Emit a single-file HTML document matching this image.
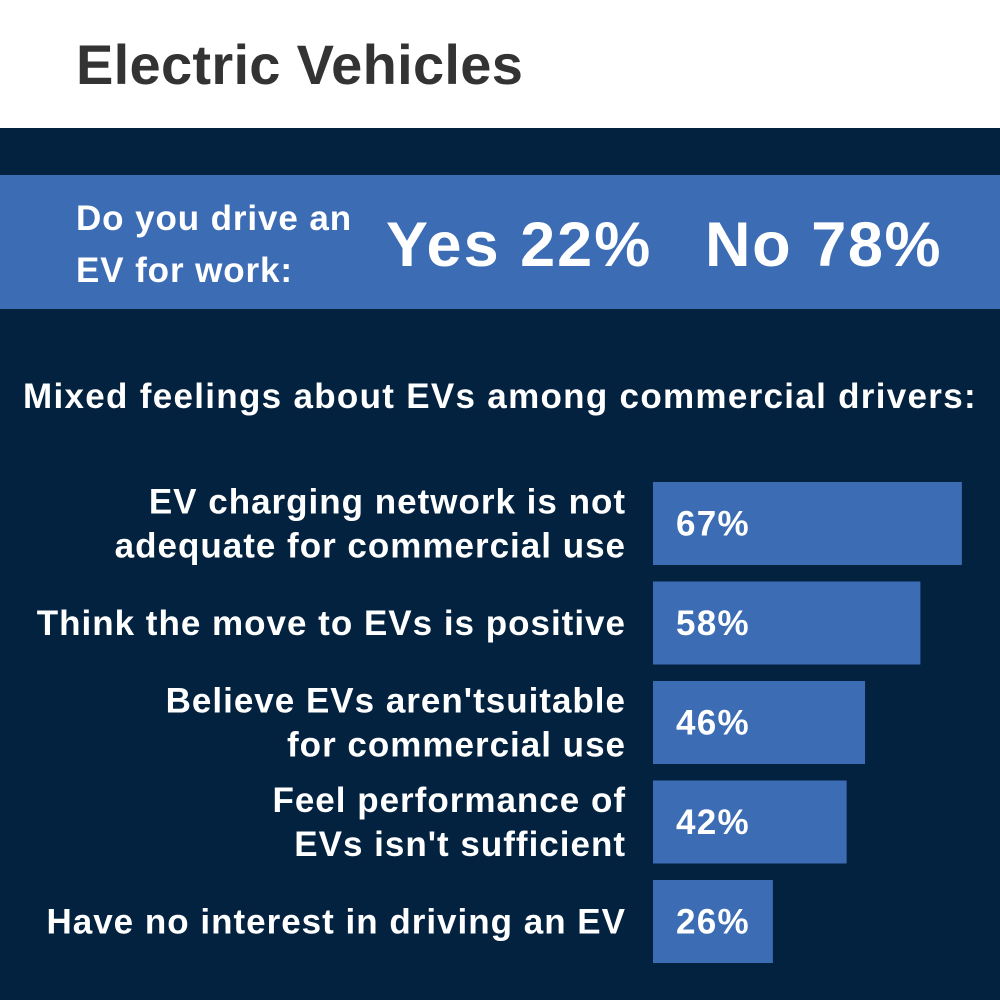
<!DOCTYPE html>
<html><head><meta charset="utf-8"><style>
body{margin:0;width:1000px;height:1000px;overflow:hidden;font-family:"Liberation Sans",sans-serif;font-weight:bold}
#hdr{position:absolute;left:0;top:0;width:1000px;height:128px;background:#fff}
#title{position:absolute;left:76px;top:32px;font-size:56px;color:#333;letter-spacing:0.3px}
#bg{position:absolute;left:0;top:128px;width:1000px;height:872px;background:#03223f}
#band{position:absolute;left:0;top:175px;width:1000px;height:134px;background:#3c6cb4}
.w{position:absolute;color:#fff;white-space:nowrap}
</style></head><body>
<div id="hdr"><div id="title">Electric Vehicles</div></div>
<div id="bg"></div>
<div id="band">
<div class="w" style="left:76px;top:18px;font-size:35px;line-height:52px;letter-spacing:0.9px">Do you drive an<br>EV for work:</div>
<div class="w" style="left:386px;top:34px;font-size:63px;letter-spacing:2px">Yes 22%</div>
<div class="w" style="left:705px;top:34px;font-size:63px;letter-spacing:1.6px">No 78%</div>
</div>
<div class="w" style="left:0;width:1000px;text-align:center;top:377px;font-size:35px;letter-spacing:1.3px">Mixed feelings about EVs among commercial drivers:</div>
<svg id="chart" width="1000" height="1000" style="position:absolute;left:0;top:0"></svg>
<script>
const categories=[["EV charging network is not","adequate for commercial use"],["Think the move to EVs is positive"],["Believe EVs aren'tsuitable","for commercial use"],["Feel performance of","EVs isn't sufficient"],["Have no interest in driving an EV"]];
const values=[67,58,46,42,26];
const valueLabels=["67%","58%","46%","42%","26%"];
const svg=document.getElementById('chart');
const NS='http://www.w3.org/2000/svg';
const x0=653,pxPer=4.61,top0=482,step=99.5,bh=83;
function xs(v){return v*pxPer;}
function ys(i){return top0+i*step;}
values.forEach((v,i)=>{
  const r=document.createElementNS(NS,'rect');
  
  
  r.setAttribute('x',x0);r.setAttribute('y',ys(i));r.setAttribute('width',xs(v));r.setAttribute('height',bh);r.setAttribute('fill','#3c6cb4');
  svg.appendChild(r);
  const t=document.createElementNS(NS,'text');
  
  
  t.setAttribute('x',676);t.setAttribute('y',ys(i)+bh/2+12);t.setAttribute('fill','#fff');t.setAttribute('font-size','35');t.setAttribute('letter-spacing','1.3');t.setAttribute('font-weight','bold');t.setAttribute('font-family','Liberation Sans, sans-serif');
  t.textContent=valueLabels[i];svg.appendChild(t);
  const lines=categories[i];
  lines.forEach((ln,j)=>{
    const l=document.createElementNS(NS,'text');
    
    
    const cy=ys(i)+bh/2+12+(j-(lines.length-1)/2)*44;
    l.setAttribute('x',626);l.setAttribute('y',cy);l.setAttribute('text-anchor','end');l.setAttribute('fill','#fff');l.setAttribute('font-size','35');l.setAttribute('letter-spacing','1');l.setAttribute('font-weight','bold');l.setAttribute('font-family','Liberation Sans, sans-serif');
    l.textContent=ln;svg.appendChild(l);
  });
});
</script>
</body></html>
